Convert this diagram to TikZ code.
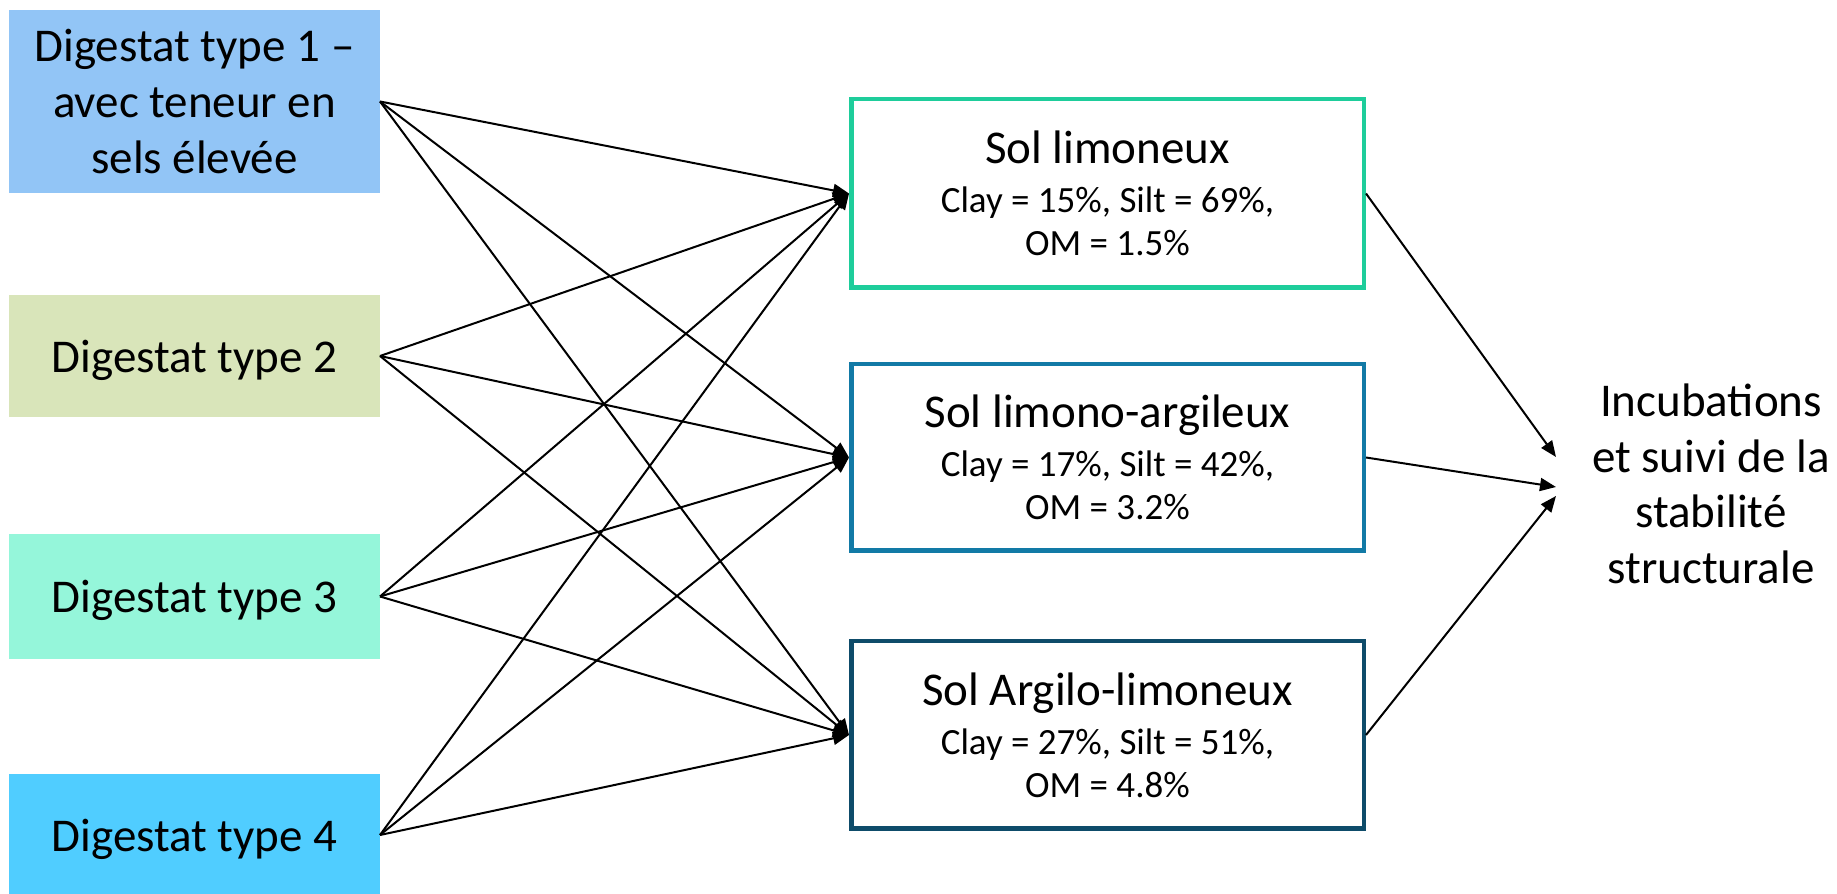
\documentclass[tikz,border=0pt]{standalone}
\usepackage{fontspec}
\setmainfont{Carlito}
\usetikzlibrary{arrows.meta}

\definecolor{dig1}{RGB}{146,197,246}
\definecolor{dig2}{RGB}{217,229,186}
\definecolor{dig3}{RGB}{149,246,218}
\definecolor{dig4}{RGB}{80,205,255}
\definecolor{solA}{RGB}{30,205,155}
\definecolor{solB}{RGB}{18,122,166}
\definecolor{solC}{RGB}{14,76,106}

\tikzset{
  digbox/.style={inner sep=0pt, outer sep=0pt, minimum width=371pt, align=center,
    text depth=0pt, font=\fontsize{47}{56}\selectfont},
  solbox/.style={draw, line width=4.5pt, fill=white, inner sep=0pt, minimum width=512.5pt,
    minimum height=188pt, align=center, font=\fontsize{37}{43}\selectfont},
  link/.style={line width=2pt, -{Triangle[length=16pt,width=13pt]}},
  result/.style={align=center, inner sep=0pt, font=\fontsize{47}{55.5}\selectfont}
}

\begin{document}
\begin{tikzpicture}[x=1pt,y=1pt]
\useasboundingbox (0,0) rectangle (1837,894);

% digestate types
\node[digbox, fill=dig1, minimum height=183pt] (d1) at (194.5,792.5)
  {Digestat type 1 –\\avec teneur en\\sels élevée};
\node[digbox, fill=dig2, minimum height=122pt] (d2) at (194.5,538) {Digestat type 2};
\node[digbox, fill=dig3, minimum height=125pt] (d3) at (194.5,297.5) {Digestat type 3};
\node[digbox, fill=dig4, minimum height=122pt] (d4) at (194.5,59) {Digestat type 4};

% soils
\node[solbox, draw=solA, minimum height=188.5pt] (s1) at (1107.5,700.5)
  {{\fontsize{47}{50}\selectfont Sol limoneux}\\[6pt]Clay = 15\%, Silt = 69\%,\\OM = 1.5\%};
\node[solbox, draw=solB, minimum height=186.5pt] (s2) at (1107.5,436.5)
  {{\fontsize{47}{50}\selectfont Sol limono-argileux}\\[6pt]Clay = 17\%, Silt = 42\%,\\OM = 3.2\%};
\node[solbox, draw=solC, minimum height=187.5pt] (s3) at (1107.5,159)
  {{\fontsize{47}{50}\selectfont Sol Argilo-limoneux}\\[6pt]Clay = 27\%, Silt = 51\%,\\OM = 4.8\%};

% outcome
\node[result] (res) at (1711,410)
  {Incubations\\et suivi de la\\stabilité\\structurale};
\coordinate (r1) at (1556,437);
\coordinate (r2) at (1556,407);
\coordinate (r3) at (1556,398);

% every digestate goes into every soil
\foreach \d in {d1,d2,d3,d4}{
  \foreach \s in {s1,s2,s3}{
    \draw[link] (\d.east) -- (\s.west);
  }
}

% soils to incubations
\draw[link] (s1.east) -- (r1);
\draw[link] (s2.east) -- (r2);
\draw[link] (s3.east) -- (r3);
\end{tikzpicture}
\end{document}
